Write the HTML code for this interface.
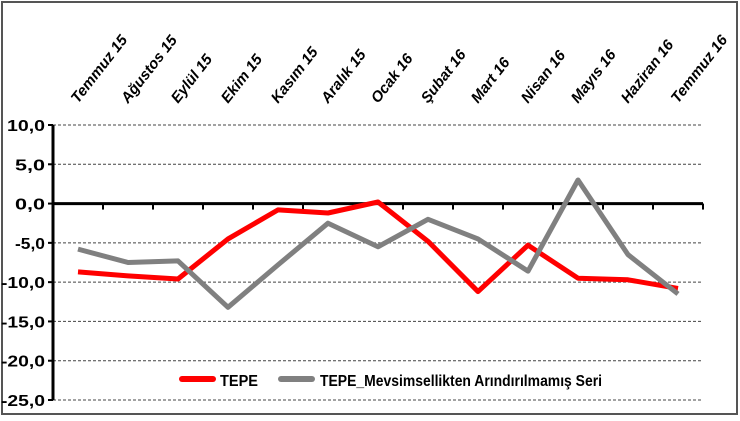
<!DOCTYPE html>
<html><head><meta charset="utf-8"><style>
html,body{margin:0;padding:0;background:#fff;}
svg{display:block;font-family:"Liberation Sans",sans-serif;}
</style></head><body>
<svg id="chart" width="740" height="421">
<rect x="2" y="2" width="735" height="412" fill="#fff" stroke="#555" stroke-width="2"/>
<g id="grid"></g><g id="axes"></g><g id="series"></g><g id="labels"></g>
<g>
<line x1="182" y1="379" x2="213" y2="379" stroke="#ff0000" stroke-width="6" stroke-linecap="round"/>
<text x="220" y="386" font-size="16" font-weight="bold" textLength="38" lengthAdjust="spacingAndGlyphs">TEPE</text>
<line x1="281" y1="379" x2="312" y2="379" stroke="#808080" stroke-width="6" stroke-linecap="round"/>
<text x="320" y="386" font-size="16" font-weight="bold" textLength="282" lengthAdjust="spacingAndGlyphs">TEPE_Mevsimsellikten Arındırılmamış Seri</text>
</g>
</svg>
<script>
const categories=["Temmuz 15","Ağustos 15","Eylül 15","Ekim 15","Kasım 15","Aralık 15","Ocak 16","Şubat 16","Mart 16","Nisan 16","Mayıs 16","Haziran 16","Temmuz 16"];
const tepe=[-8.7,-9.2,-9.6,-4.5,-0.8,-1.2,0.2,-4.8,-11.2,-5.3,-9.5,-9.7,-10.8];
const raw=[-5.8,-7.5,-7.3,-13.2,-7.8,-2.5,-5.5,-2.0,-4.5,-8.6,3.0,-6.5,-11.5];
const yTicks=[10,5,0,-5,-10,-15,-20,-25];
const yTickLabels=["10,0","5,0","0,0","-5,0","-10,0","-15,0","-20,0","-25,0"];
const NS="http://www.w3.org/2000/svg";
const L=53,R=703,yMax=10,yMin=-25,T=125,B=400;
const bw=(R-L)/categories.length;
const xc=i=>L+bw*(i+0.5);
const y=v=>T+(yMax-v)/(yMax-yMin)*(B-T);
function mk(tag,attrs,parent){const e=document.createElementNS(NS,tag);for(const k in attrs)e.setAttribute(k,attrs[k]);document.getElementById(parent).appendChild(e);return e;}
yTicks.forEach((t,i)=>{
 if(t!==0){const g=mk('line',{x1:L,x2:R,y1:y(t),y2:y(t),stroke:'#444','stroke-width':1,'stroke-dasharray':'3,2'},'grid');
 
 }
 const tk=mk('line',{x1:L-5,x2:L,y1:y(t),y2:y(t),stroke:'#000','stroke-width':2},'axes');
 
 
 const tx=mk('text',{x:L-8,y:y(t)+6,'text-anchor':'end','font-size':16,'font-weight':'bold',textLength:t<=-10?44:(t===10?38:30),lengthAdjust:'spacingAndGlyphs'},'axes');
 tx.textContent=yTickLabels[i];
 
 
});
const ya=mk('line',{x1:L,x2:L,y1:T,y2:B,stroke:'#000','stroke-width':3},'axes');


const xa=mk('line',{x1:L,x2:R,y1:y(0),y2:y(0),stroke:'#000','stroke-width':3},'axes');


for(let i=1;i<=categories.length;i++){
 const t=mk('line',{x1:L+bw*i,x2:L+bw*i,y1:y(0),y2:y(0)+6,stroke:'#000','stroke-width':2},'axes');
 
 
}
categories.forEach((c,i)=>{
 const t=mk('text',{x:xc(i),y:104,'font-size':15,'font-weight':'bold','font-style':'italic',transform:`rotate(-52 ${xc(i)} 104)`},'labels');
 t.textContent=c;
 
 
});
function line(vals,color,name){
 const p=mk('polyline',{points:vals.map((v,i)=>xc(i)+','+y(v)).join(' '),fill:'none',stroke:color,'stroke-width':5,'stroke-linejoin':'round'},'series');
 
 
}
line(tepe,'#ff0000','tepe-line');
line(raw,'#808080','raw-series-line');
</script>
</body></html>
